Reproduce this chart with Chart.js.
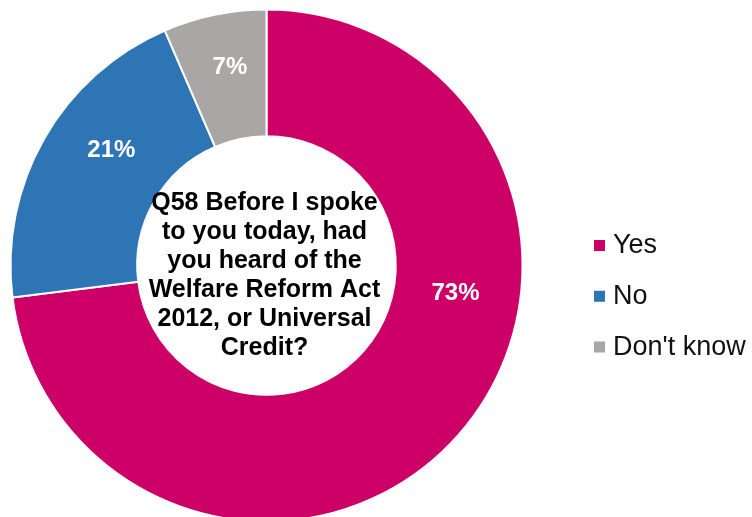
<!DOCTYPE html>
<html><head><meta charset="utf-8">
<script src="https://cdn.jsdelivr.net/npm/chart.js@4.4.0/dist/chart.umd.min.js"></script>
<style>
html,body{margin:0;padding:0;background:#fff;overflow:hidden;}
#wrap{position:relative;width:752px;height:531px;}
</style></head>
<body><div id="wrap"><canvas id="c"></canvas></div>
<script>
const categories = ['Yes', 'No', "Don't know"];
const values = [73, 20.5, 6.5];
const colors = ['#CC0066', '#2E75B6', '#A9A6A6'];
const centerTitle = ['Q58 Before I spoke', 'to you today, had', 'you heard of the', 'Welfare Reform Act', '2012, or Universal', 'Credit?'];

const FONT = '"Liberation Sans", Arial, sans-serif';

const sliceLabels = {
  id: 'sliceLabels',
  afterDatasetsDraw(chart, args, opts) {
    const ctx = chart.ctx;
    const meta = chart.getDatasetMeta(0);
    const data = chart.data.datasets[0].data;
    ctx.save();
    ctx.fillStyle = '#ffffff';
    ctx.font = 'bold 24px ' + FONT;
    ctx.textAlign = 'center';
    ctx.textBaseline = 'alphabetic';
    meta.data.forEach((arc, i) => {
      const p = opts.placement[i];
      const a = arc.startAngle + p.t * (arc.endAngle - arc.startAngle);
      const r = arc.innerRadius + p.r * (arc.outerRadius - arc.innerRadius);
      const x = arc.x + r * Math.cos(a);
      const y = arc.y + r * Math.sin(a);
      ctx.fillText(Math.round(data[i]) + '%', x, y + 8.6);
    });
    ctx.restore();
  }
};

const centerText = {
  id: 'centerText',
  afterDatasetsDraw(chart, args, opts) {
    const ctx = chart.ctx;
    const arc = chart.getDatasetMeta(0).data[0];
    ctx.save();
    ctx.fillStyle = '#000000';
    ctx.font = 'bold 25px ' + FONT;
    ctx.textAlign = 'center';
    ctx.textBaseline = 'alphabetic';
    opts.lines.forEach((line, i) => {
      ctx.fillText(line, arc.x + opts.dx, arc.y + opts.firstBaseline + i * opts.lineGap);
    });
    ctx.restore();
  }
};

const sideLegend = {
  id: 'sideLegend',
  afterDraw(chart, args, opts) {
    const ctx = chart.ctx;
    const ds = chart.data.datasets[0];
    ctx.save();
    ctx.font = '27px ' + FONT;
    ctx.textAlign = 'left';
    ctx.textBaseline = 'alphabetic';
    chart.data.labels.forEach((lab, i) => {
      const cy = opts.y0 + i * opts.gap;
      ctx.fillStyle = ds.backgroundColor[i];
      ctx.fillRect(opts.boxX, cy - opts.box / 2, opts.box, opts.box);
      ctx.fillStyle = '#111111';
      ctx.fillText(lab, opts.textX, cy + 7.5);
    });
    ctx.restore();
  }
};

new Chart(document.getElementById('c'), {
  type: 'doughnut',
  data: {
    labels: categories,
    datasets: [{
      data: values,
      backgroundColor: colors,
      borderColor: '#ffffff',
      borderWidth: 2,
      hoverOffset: 0
    }]
  },
  options: {
    responsive: true,
    maintainAspectRatio: false,
    animation: false,
    radius: 256,
    cutout: '50.5%',
    rotation: 0,
    layout: { padding: { left: 11, top: 10, right: 230, bottom: 10 } },
    plugins: {
      legend: { display: false },
      tooltip: { enabled: false },
      sliceLabels: {
        placement: [ { t: 0.372, r: 0.485 }, { t: 0.6, r: 0.515 }, { t: 0.557, r: 0.583 } ]
      },
      centerText: { lines: centerTitle, dx: -2, firstBaseline: -55.5, lineGap: 29 },
      sideLegend: { boxX: 594, box: 11, textX: 613, y0: 245.5, gap: 50.75 }
    }
  },
  plugins: [sliceLabels, centerText, sideLegend]
});
</script>
</body></html>
